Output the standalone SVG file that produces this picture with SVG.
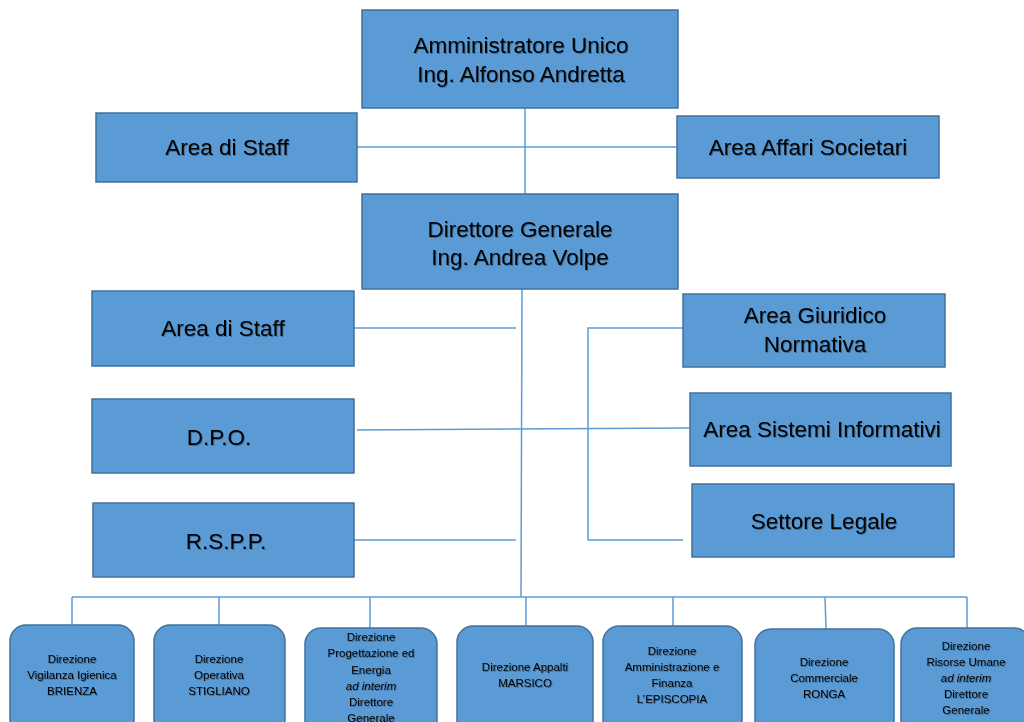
<svg xmlns="http://www.w3.org/2000/svg" width="1024" height="722" viewBox="0 0 1024 722">
  <defs>
    <filter id="ts" x="-5%" y="-20%" width="110%" height="140%">
      <feDropShadow dx="1" dy="1" stdDeviation="0.7" flood-color="#000" flood-opacity="0.3"/>
    </filter>
  </defs>
  <style>
    .box { fill: #5B9BD5; stroke: #41719C; stroke-width: 1.5; }
    .big { font-family: "Liberation Sans", Arial, sans-serif; font-size: 22.5px; fill: #000; text-anchor: middle; filter: url(#ts); }
    .small { font-family: "Liberation Sans", Arial, sans-serif; font-size: 11.5px; fill: #000; text-anchor: middle; filter: url(#ts); }
    .it { font-style: italic; }
    .conn { stroke: #5B9BD5; stroke-width: 1.5; fill: none; }
  </style>
  <rect width="1024" height="722" fill="#fff"/>

  <g id="connectors">
    <line class="conn" x1="525" y1="108" x2="525" y2="194"/>
    <line class="conn" x1="357" y1="147" x2="677" y2="147"/>
    <line class="conn" x1="522" y1="289" x2="521" y2="597"/>
    <line class="conn" x1="354" y1="328" x2="516" y2="328"/>
    <line class="conn" x1="357" y1="430" x2="690" y2="428"/>
    <line class="conn" x1="354" y1="540" x2="516" y2="540"/>
    <polyline class="conn" points="683,328 588,328 588,540 683,540"/>
    <line class="conn" x1="72" y1="597" x2="967" y2="597"/>
    <line class="conn" x1="72" y1="597" x2="72" y2="625"/>
    <line class="conn" x1="219" y1="597" x2="219" y2="625"/>
    <line class="conn" x1="370" y1="597" x2="370" y2="628"/>
    <line class="conn" x1="526" y1="597" x2="526" y2="626"/>
    <line class="conn" x1="673" y1="597" x2="673" y2="626"/>
    <line class="conn" x1="825" y1="597" x2="826" y2="629"/>
    <line class="conn" x1="967" y1="597" x2="967" y2="628"/>
  </g>

  <g id="amministratore">
    <rect class="box" x="362" y="10" width="316" height="98"/>
    <text class="big" x="521" y="53">Amministratore Unico</text>
    <text class="big" x="521" y="82">Ing. Alfonso Andretta</text>
  </g>
  <g id="area-staff-1">
    <rect class="box" x="96" y="113" width="261" height="69"/>
    <text class="big" x="227" y="155">Area di Staff</text>
  </g>
  <g id="area-affari">
    <rect class="box" x="677" y="116" width="262" height="62"/>
    <text class="big" x="808" y="155">Area Affari Societari</text>
  </g>
  <g id="direttore">
    <rect class="box" x="362" y="194" width="316" height="95"/>
    <text class="big" x="520" y="237">Direttore Generale</text>
    <text class="big" x="520" y="265">Ing. Andrea Volpe</text>
  </g>
  <g id="area-staff-2">
    <rect class="box" x="92" y="291" width="262" height="75"/>
    <text class="big" x="223" y="336">Area di Staff</text>
  </g>
  <g id="dpo">
    <rect class="box" x="92" y="399" width="262" height="74"/>
    <text class="big" x="219" y="445">D.P.O.</text>
  </g>
  <g id="rspp">
    <rect class="box" x="93" y="503" width="261" height="74"/>
    <text class="big" x="226" y="549">R.S.P.P.</text>
  </g>
  <g id="area-giuridico">
    <rect class="box" x="683" y="294" width="262" height="73"/>
    <text class="big" x="815" y="323">Area Giuridico</text>
    <text class="big" x="815" y="352">Normativa</text>
  </g>
  <g id="area-sistemi">
    <rect class="box" x="690" y="393" width="261" height="73"/>
    <text class="big" x="822" y="437">Area Sistemi Informativi</text>
  </g>
  <g id="settore-legale">
    <rect class="box" x="692" y="484" width="262" height="73"/>
    <text class="big" x="824" y="529">Settore Legale</text>
  </g>

  <g id="dir-vigilanza">
    <rect class="box" x="10" y="625" width="124" height="110" rx="16"/>
    <text class="small" x="72" y="663">Direzione</text>
    <text class="small" x="72" y="679">Vigilanza Igienica</text>
    <text class="small" x="72" y="695">BRIENZA</text>
  </g>
  <g id="dir-operativa">
    <rect class="box" x="154" y="625" width="131" height="110" rx="16"/>
    <text class="small" x="219" y="663">Direzione</text>
    <text class="small" x="219" y="679">Operativa</text>
    <text class="small" x="219" y="695">STIGLIANO</text>
  </g>
  <g id="dir-progettazione">
    <rect class="box" x="305" y="628" width="132" height="110" rx="16"/>
    <text class="small" x="371" y="641">Direzione</text>
    <text class="small" x="371" y="657">Progettazione ed</text>
    <text class="small" x="371" y="674">Energia</text>
    <text class="small it" x="371" y="690">ad interim</text>
    <text class="small" x="371" y="706">Direttore</text>
    <text class="small" x="371" y="722">Generale</text>
  </g>
  <g id="dir-appalti">
    <rect class="box" x="457" y="626" width="136" height="110" rx="16"/>
    <text class="small" x="525" y="671">Direzione Appalti</text>
    <text class="small" x="525" y="687">MARSICO</text>
  </g>
  <g id="dir-amministrazione">
    <rect class="box" x="603" y="626" width="139" height="110" rx="16"/>
    <text class="small" x="672" y="655">Direzione</text>
    <text class="small" x="672" y="671">Amministrazione e</text>
    <text class="small" x="672" y="687">Finanza</text>
    <text class="small" x="672" y="703">L’EPISCOPIA</text>
  </g>
  <g id="dir-commerciale">
    <rect class="box" x="755" y="629" width="139" height="110" rx="16"/>
    <text class="small" x="824" y="666">Direzione</text>
    <text class="small" x="824" y="682">Commerciale</text>
    <text class="small" x="824" y="698">RONGA</text>
  </g>
  <g id="dir-risorse">
    <rect class="box" x="901" y="628" width="129" height="110" rx="16"/>
    <text class="small" x="966" y="650">Direzione</text>
    <text class="small" x="966" y="666">Risorse Umane</text>
    <text class="small it" x="966" y="682">ad interim</text>
    <text class="small" x="966" y="698">Direttore</text>
    <text class="small" x="966" y="714">Generale</text>
  </g>
</svg>
